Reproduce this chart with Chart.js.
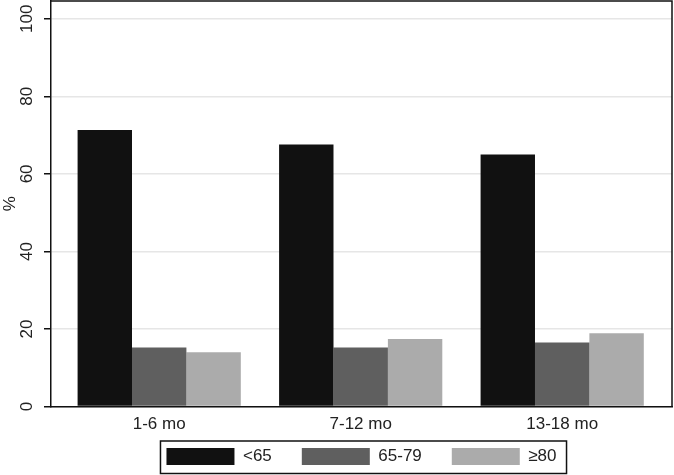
<!DOCTYPE html>
<html>
<head>
<meta charset="utf-8">
<script src="https://cdn.jsdelivr.net/npm/chart.js@4/dist/chart.umd.min.js"></script>
<style>
  html, body { margin: 0; padding: 0; background: #fff; }
  #wrap { width: 674px; height: 475px; }
</style>
</head>
<body>
<div id="wrap"><canvas id="chart" width="674" height="475"></canvas></div>
<script>
const categories = ['1-6 mo', '7-12 mo', '13-18 mo'];
const seriesNames = ['<65', '65-79', '≥80'];
const under65 = [71.3, 67.6, 65.0];
const age65to79 = [15.2, 15.2, 16.5];
const age80plus = [14.0, 17.4, 18.9];
const yTicks = [0, 20, 40, 60, 80, 100];

const FONT = '"Liberation Sans", Arial, sans-serif';
const INK = '#111111';

function points(arr) {
  return arr.map((v, i) => ({ x: i, y: v }));
}

// frame, rotated y labels, category labels and legend box
const extras = {
  id: 'extras',
  afterDraw(chart) {
    const ctx = chart.ctx;
    const a = chart.chartArea;
    const x = chart.scales.x;
    const y = chart.scales.y;

    ctx.save();
    ctx.strokeStyle = INK;
    ctx.lineWidth = 1.5;
    ctx.beginPath();
    ctx.moveTo(a.left, a.top);
    ctx.lineTo(a.right, a.top);
    ctx.lineTo(a.right, a.bottom);
    ctx.stroke();

    ctx.fillStyle = '#222';
    ctx.font = '17px ' + FONT;
    ctx.textAlign = 'center';
    ctx.textBaseline = 'middle';
    yTicks.forEach(t => {
      ctx.save();
      ctx.translate(27, y.getPixelForValue(t));
      ctx.rotate(-Math.PI / 2);
      ctx.fillText(String(t), 0, 0);
      ctx.restore();
    });

    categories.forEach((c, i) => {
      ctx.fillText(c, x.getPixelForValue(i), a.bottom + 18);
    });

    const boxes = chart.legend.legendHitBoxes;
    if (boxes && boxes.length) {
      const first = boxes[0];
      const last = boxes[boxes.length - 1];
      const left = first.left - 6;
      const right = last.left + last.width + 10;
      const top = first.top - 7;
      ctx.strokeRect(left, top, right - left, 32.5);
    }
    ctx.restore();
  }
};

new Chart(document.getElementById('chart'), {
  type: 'bar',
  data: {
    datasets: [
      { label: seriesNames[0], data: points(under65), backgroundColor: '#111111' },
      { label: seriesNames[1], data: points(age65to79), backgroundColor: '#5f5f5f' },
      { label: seriesNames[2], data: points(age80plus), backgroundColor: '#ababab' }
    ]
  },
  options: {
    responsive: false,
    animation: false,
    categoryPercentage: 0.81,
    barPercentage: 1,
    layout: { padding: { top: 1, right: 2, left: 0, bottom: 0 } },
    scales: {
      x: {
        type: 'linear',
        offset: false,
        min: -0.537,
        max: 2.545,
        afterBuildTicks: s => { s.ticks = categories.map((c, i) => ({ value: i })); },
        afterFit: s => { s.height = 11.5; },
        grid: { display: false, drawTicks: false },
        border: { display: true, color: INK, width: 1.5 },
        ticks: { display: false }
      },
      y: {
        min: 0,
        max: 104.6,
        afterBuildTicks: s => { s.ticks = yTicks.map(v => ({ value: v })); },
        afterFit: s => { s.width = 51; },
        grid: { color: '#e6e6e6', lineWidth: 1.5, tickColor: INK, tickLength: 7, drawTicks: true },
        border: { display: true, color: INK, width: 1.5 },
        ticks: { display: false },
        title: {
          display: true,
          text: '%',
          color: '#222',
          padding: 0,
          font: { family: FONT, size: 17 }
        }
      }
    },
    plugins: {
      tooltip: { enabled: false },
      legend: {
        position: 'bottom',
        fullSize: false,
        labels: {
          boxWidth: 68,
          boxHeight: 17,
          padding: 30,
          color: '#222',
          font: { family: FONT, size: 17 }
        }
      }
    }
  },
  plugins: [extras]
});
</script>
</body>
</html>
